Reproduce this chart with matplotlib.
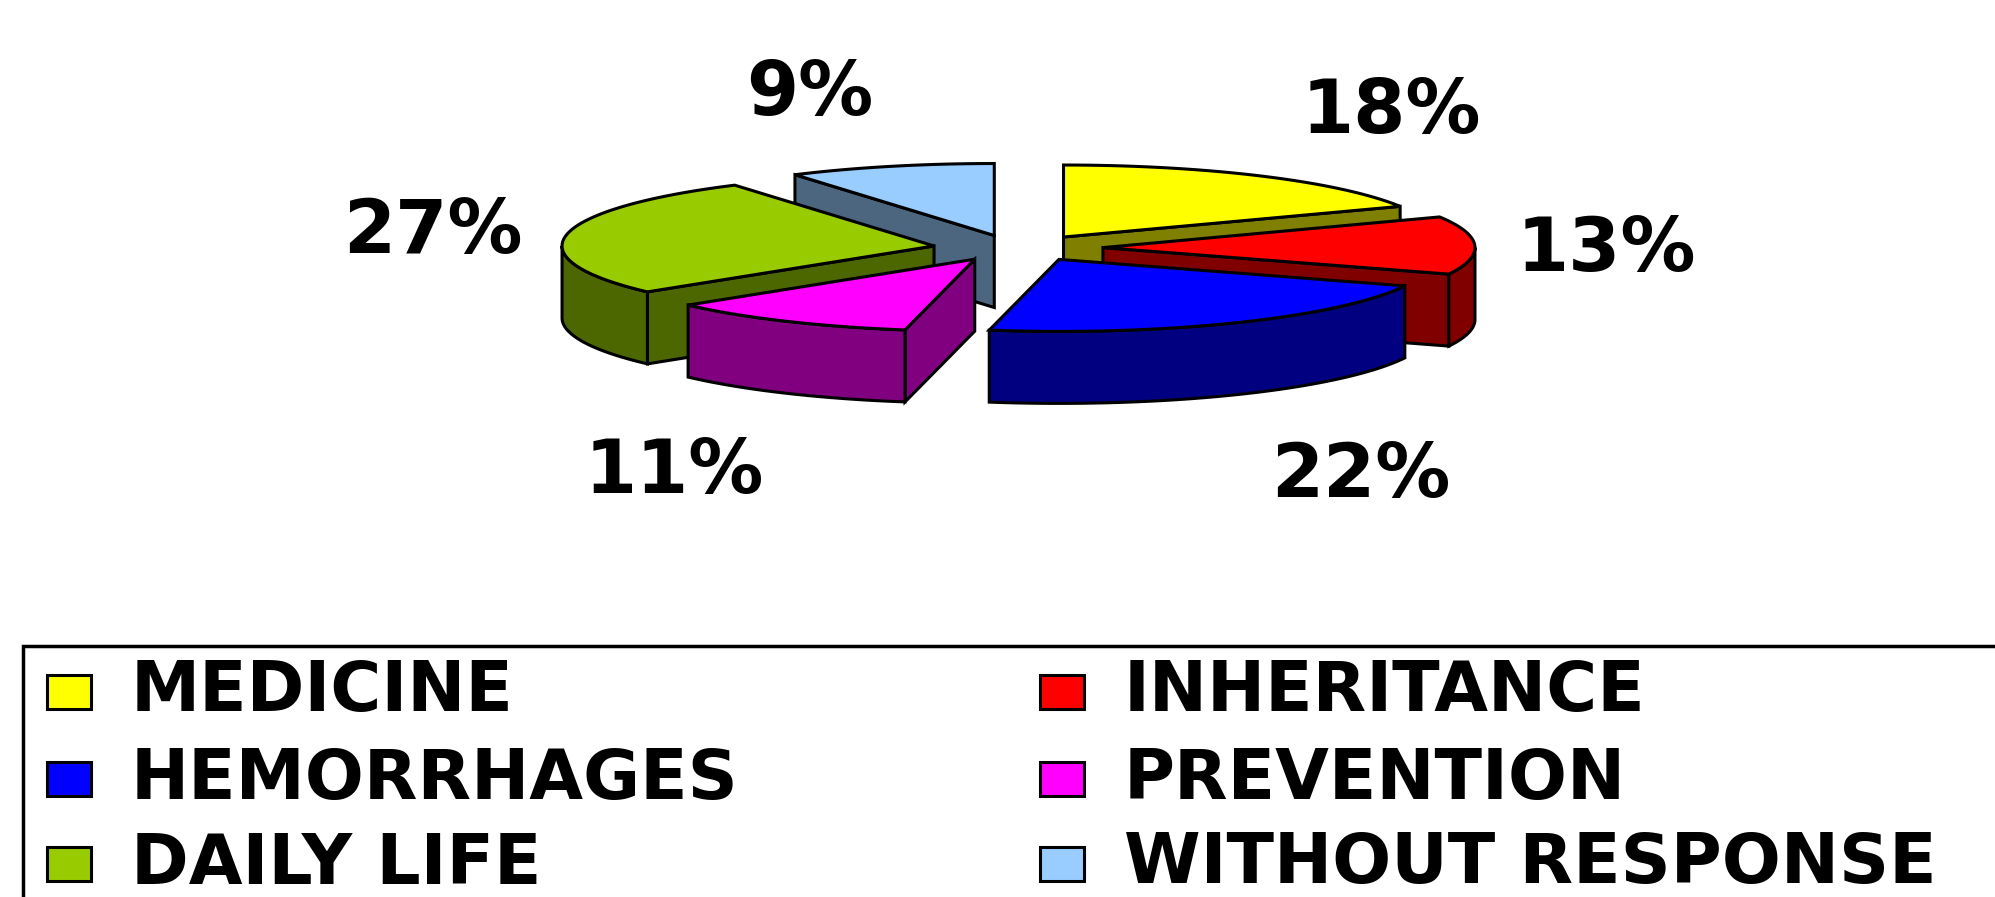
import numpy as np
import matplotlib
matplotlib.use("Agg")
import matplotlib.pyplot as plt
from matplotlib.patches import Polygon, Rectangle

# ---------------- data ----------------
categories = ["MEDICINE", "INHERITANCE", "HEMORRHAGES", "PREVENTION", "DAILY LIFE", "WITHOUT RESPONSE"]
values = [18, 13, 22, 11, 27, 9]
labels = ["18%", "13%", "22%", "11%", "27%", "9%"]
top_colors = ["#FFFF00", "#FF0000", "#0000FF", "#FF00FF", "#99CC00", "#99CCFF"]
side_colors = ["#808000", "#800000", "#000080", "#800080", "#4C6600", "#4D6680"]

# ---------------- layout (pixels) ----------------
W, H = 1995, 897
CX, CY = 1018, 248          # pie centre (top face)
RX, RY = 372, 72            # ellipse radii
DEPTH = 72
EX, EY = 85, 13             # explode offsets
label_pos = [(1391, 112), (1606, 251), (1361, 476), (674, 473), (433, 233), (810, 95)]

fig = plt.figure(figsize=(W / 100, H / 100), dpi=100)
ax = fig.add_axes([0, 0, 1, 1])
ax.set_xlim(0, W)
ax.set_ylim(H, 0)
ax.axis("off")

fr = np.array(values, dtype=float) / np.sum(values)
ends = np.cumsum(fr) * 360.0
starts = ends - fr * 360.0


def pt(t, ox, oy, dz=0.0):
    r = np.radians(t)
    return (CX + ox + RX * np.sin(r), CY + oy - RY * np.cos(r) + dz)


slices = []
for i, (a, b) in enumerate(zip(starts, ends)):
    m = np.radians((a + b) / 2)
    ox, oy = EX * np.sin(m), -EY * np.cos(m)
    slices.append((i, a, b, ox, oy, -np.cos(m)))

# painter order: back to front
slices.sort(key=lambda s: s[5])

kw = dict(edgecolor="black", linewidth=2.2, joinstyle="miter")
for i, a, b, ox, oy, _ in slices:
    apex = (CX + ox, CY + oy)
    apex_d = (CX + ox, CY + oy + DEPTH)
    # radial faces
    if np.sin(np.radians(a)) < -1e-6:
        p = pt(a, ox, oy)
        pd = pt(a, ox, oy, DEPTH)
        ax.add_patch(Polygon([apex, p, pd, apex_d], closed=True, facecolor=side_colors[i], **kw))
    if np.sin(np.radians(b)) > 1e-6:
        p = pt(b, ox, oy)
        pd = pt(b, ox, oy, DEPTH)
        ax.add_patch(Polygon([apex, p, pd, apex_d], closed=True, facecolor=side_colors[i], **kw))
    # outer wall (front half only)
    lo, hi = max(a, 90.0), min(b, 270.0)
    if hi > lo:
        ts = np.linspace(lo, hi, 60)
        top = [pt(t, ox, oy) for t in ts]
        bot = [pt(t, ox, oy, DEPTH) for t in ts[::-1]]
        ax.add_patch(Polygon(top + bot, closed=True, facecolor=side_colors[i], **kw))
    # top face
    ts = np.linspace(a, b, 100)
    poly = [apex] + [pt(t, ox, oy) for t in ts]
    ax.add_patch(Polygon(poly, closed=True, facecolor=top_colors[i], **kw))

# data labels
for lab, (x, y) in zip(labels, label_pos):
    ax.text(x, y, lab, fontsize=54, fontweight="bold", family="DejaVu Sans",
            ha="center", va="center", color="black")

# legend (manual, frame runs off the right/bottom edges like the reference)
ax.add_patch(Rectangle((23, 646), 2000, 300, facecolor="white", edgecolor="black",
                       linewidth=2.5, clip_on=False))
col_x = [47, 1040]
row_y = [692, 779, 864]
for k, name in enumerate(categories):
    r, c = divmod(k, 2)
    x, y = col_x[c], row_y[r]
    ax.add_patch(Rectangle((x, y - 17), 44, 34, facecolor=top_colors[k],
                           edgecolor="black", linewidth=2.2))
    ax.text(x + 84, y, name, fontsize=50, fontweight="bold", family="DejaVu Sans",
            ha="left", va="center", color="black")

fig.savefig("out.png", dpi=100, facecolor="white")
